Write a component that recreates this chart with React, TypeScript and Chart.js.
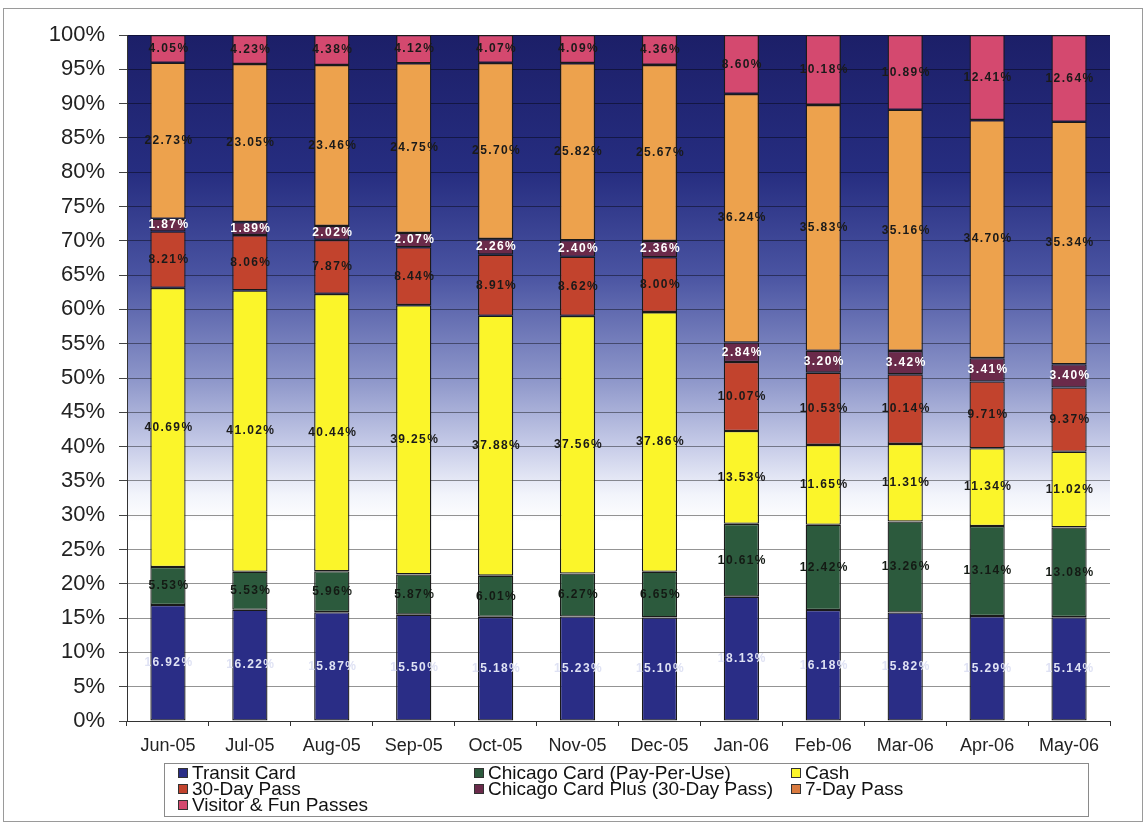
import React, { useEffect, useRef } from 'react';
import { Chart, registerables } from 'chart.js';

Chart.register(...registerables);

const months = ['Jun-05', 'Jul-05', 'Aug-05', 'Sep-05', 'Oct-05', 'Nov-05', 'Dec-05', 'Jan-06', 'Feb-06', 'Mar-06', 'Apr-06', 'May-06'];
const transitCard = [16.92, 16.22, 15.87, 15.5, 15.18, 15.23, 15.1, 18.13, 16.18, 15.82, 15.29, 15.14];
const chicagoCardPPU = [5.53, 5.53, 5.96, 5.87, 6.01, 6.27, 6.65, 10.61, 12.42, 13.26, 13.14, 13.08];
const cash = [40.69, 41.02, 40.44, 39.25, 37.88, 37.56, 37.86, 13.53, 11.65, 11.31, 11.34, 11.02];
const thirtyDayPass = [8.21, 8.06, 7.87, 8.44, 8.91, 8.62, 8.0, 10.07, 10.53, 10.14, 9.71, 9.37];
const chicagoCardPlus = [1.87, 1.89, 2.02, 2.07, 2.26, 2.4, 2.36, 2.84, 3.2, 3.42, 3.41, 3.4];
const sevenDayPass = [22.73, 23.05, 23.46, 24.75, 25.7, 25.82, 25.67, 36.24, 35.83, 35.16, 34.7, 35.34];
const visitorPasses = [4.05, 4.23, 4.38, 4.12, 4.07, 4.09, 4.36, 8.6, 10.18, 10.89, 12.41, 12.64];

const seriesNames = [
  'Transit Card',
  'Chicago Card (Pay-Per-Use)',
  'Cash',
  '30-Day Pass',
  'Chicago Card Plus (30-Day Pass)',
  '7-Day Pass',
  'Visitor & Fun Passes',
];
const seriesValues = [transitCard, chicagoCardPPU, cash, thirtyDayPass, chicagoCardPlus, sevenDayPass, visitorPasses];
const seriesColors = ['#2a2d86', '#2c5a3d', '#fbf52a', '#c2432d', '#6a2a4a', '#eda24d', '#d4496f'];
const labelColors = ['#dfe2f4', '#141a14', '#1a1a1a', '#1a1a1a', '#ffffff', '#1a1a1a', '#1a1a1a'];
const legendColors = ['#2a2d86', '#2c5a3d', '#fbf52a', '#c2432d', '#6a2a4a', '#d97a3f', '#d4496f'];

const FONT = "'Liberation Sans', Arial, sans-serif";

const backgroundPlugin = {
  id: 'bgPlugin',
  beforeDraw(chart: any) {
    const { ctx, chartArea, width, height } = chart;
    ctx.save();
    ctx.fillStyle = '#ffffff';
    ctx.fillRect(0, 0, width, height);
    ctx.strokeStyle = '#9a9a9a';
    ctx.lineWidth = 1;
    ctx.strokeRect(3.5, 8.5, 1139, 813);
    const y = chart.scales.y;
    const g = ctx.createLinearGradient(0, y.getPixelForValue(100), 0, y.getPixelForValue(0));
    g.addColorStop(0, '#1c1f68');
    g.addColorStop(0.2, '#262d80');
    g.addColorStop(0.35, '#4a54a2');
    g.addColorStop(0.5, '#8c95c9');
    g.addColorStop(0.6, '#c7cce8');
    g.addColorStop(0.67, '#f2f4fb');
    g.addColorStop(0.71, '#ffffff');
    g.addColorStop(1, '#ffffff');
    ctx.fillStyle = g;
    ctx.fillRect(chartArea.left, chartArea.top, chartArea.right - chartArea.left, chartArea.bottom - chartArea.top);
    ctx.restore();
  },
};

const dataLabelPlugin = {
  id: 'dataLabels',
  afterDatasetsDraw(chart: any) {
    const { ctx } = chart;
    ctx.save();
    ctx.font = `bold 12px ${FONT}`;
    (ctx as any).letterSpacing = '1.4px';
    ctx.textAlign = 'center';
    ctx.textBaseline = 'middle';
    chart.data.datasets.forEach((ds: any, di: number) => {
      const meta = chart.getDatasetMeta(di);
      meta.data.forEach((bar: any, i: number) => {
        const v = ds.data[i];
        const cy = (bar.y + bar.base) / 2;
        ctx.fillStyle = labelColors[di];
        ctx.fillText(v.toFixed(2) + '%', bar.x + 1, cy);
      });
    });
    ctx.restore();
  },
};

const legendPlugin = {
  id: 'boxLegend',
  afterDraw(chart: any) {
    const { ctx } = chart;
    ctx.save();
    ctx.strokeStyle = '#8a8a8a';
    ctx.lineWidth = 1;
    ctx.strokeRect(164.5, 763.5, 924, 53);
    const colX = [178, 474, 791];
    const rowY = [773, 789, 805];
    ctx.font = `19px ${FONT}`;
    ctx.textBaseline = 'middle';
    ctx.textAlign = 'left';
    chart.data.datasets.forEach((ds: any, di: number) => {
      const x = colX[di % 3];
      const y = rowY[Math.floor(di / 3)];
      ctx.fillStyle = legendColors[di];
      ctx.fillRect(x, y - 5, 10, 10);
      ctx.strokeStyle = '#333';
      ctx.strokeRect(x + 0.5, y - 4.5, 9, 9);
      ctx.fillStyle = '#111';
      ctx.fillText(ds.label, x + 14, y + 1);
    });
    ctx.restore();
  },
};

export default function App() {
  const canvasRef = useRef<HTMLCanvasElement | null>(null);

  useEffect(() => {
    if (!canvasRef.current) return;
    const chart = new Chart(canvasRef.current, {
      type: 'bar',
      data: {
        labels: months,
        datasets: seriesNames.map((name, i) => ({
          label: name,
          data: seriesValues[i],
          backgroundColor: seriesColors[i],
          borderColor: '#1a1a1a',
          borderWidth: 1.3,
          borderSkipped: false,
          barPercentage: 0.43,
          categoryPercentage: 1,
        })),
      },
      options: {
        responsive: false,
        animation: false,
        events: [],
        layout: { padding: { left: 40, top: 35, right: 37, bottom: 67 } },
        plugins: {
          legend: { display: false },
          tooltip: { enabled: false },
          title: { display: false },
        },
        scales: {
          x: {
            stacked: true,
            afterFit: (s: any) => {
              s.height = 40;
            },
            grid: {
              display: true,
              drawOnChartArea: false,
              tickLength: 5,
              color: '#333',
              offset: true,
            },
            border: { display: true, color: '#333', width: 1 },
            ticks: {
              color: '#222',
              font: { family: FONT, size: 18 },
              padding: 9,
              maxRotation: 0,
              autoSkip: false,
            },
          },
          y: {
            stacked: true,
            min: 0,
            max: 100,
            afterFit: (s: any) => {
              s.width = 87;
            },
            grid: {
              color: 'rgba(0,0,0,0.42)',
              lineWidth: 1,
              tickLength: 8,
              tickColor: '#444',
            },
            border: { display: true, color: '#333', width: 1 },
            ticks: {
              stepSize: 5,
              color: '#222',
              padding: 14,
              font: { family: FONT, size: 22 },
              callback: (v: any) => v + '%',
            },
          },
        },
      },
      plugins: [backgroundPlugin, dataLabelPlugin, legendPlugin],
    });
    return () => chart.destroy();
  }, []);

  return (
    <div style={{ position: 'fixed', left: 0, top: 0, width: 1147, height: 828, background: '#fff' }}>
      <canvas ref={canvasRef} width={1147} height={828} style={{ display: 'block', width: 1147, height: 828 }} />
    </div>
  );
}
